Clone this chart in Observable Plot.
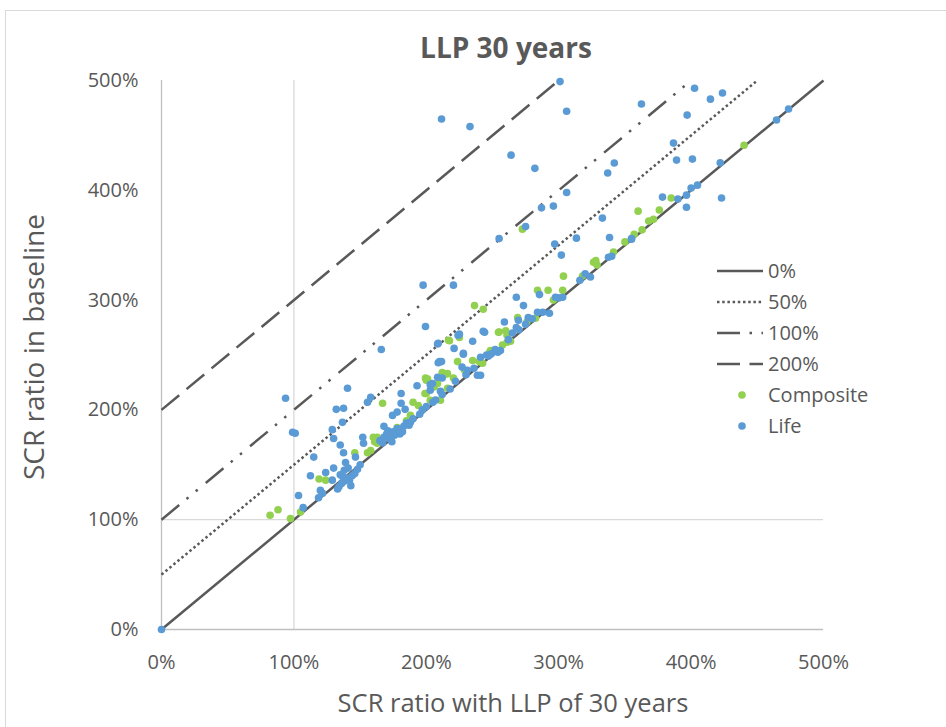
<!DOCTYPE html>
<html>
<head>
<meta charset="utf-8">
<script src="https://cdn.jsdelivr.net/npm/d3@7"></script>
<script src="https://cdn.jsdelivr.net/npm/@observablehq/plot@0.6"></script>
<style>
  html, body { margin: 0; padding: 0; background: #fff; }
  #wrap { position: relative; width: 946px; height: 727px; overflow: hidden; font-family: "Open Sans", sans-serif; color: #595959; }
  #frame { position: absolute; left: 5px; top: 10px; width: 1000px; height: 800px; border: 1px solid #d9d9d9; box-sizing: border-box; }
  #chart { position: absolute; left: 0; top: 0; }
  .title { position: absolute; left: 0; width: 1012px; top: 28px; text-align: center; font-weight: bold; font-size: 28px; color: #595959; }
  .xlab { position: absolute; left: 0; width: 1026px; top: 685px; text-align: center; font-size: 25.5px; }
  .ylab { position: absolute; left: 33px; top: 347px; transform: translate(-50%, -50%) rotate(-90deg); white-space: nowrap; font-size: 28px; }
  #legend { position: absolute; left: 714px; top: 255px; }
  .item { display: flex; align-items: center; height: 31px; font-size: 20px; }
  .item svg { width: 52px; height: 20px; margin-right: 2px; }
</style>
</head>
<body>
<div id="wrap">
  <div id="frame"></div>
  <div id="chart"></div>
  <div class="title">LLP 30 years</div>
  <div class="ylab">SCR ratio in baseline</div>
  <div class="xlab">SCR ratio with LLP of 30 years</div>
  <div id="legend"></div>
</div>
<script>
// ---- data (percent) ----
const tickValues = [0, 100, 200, 300, 400, 500];
const gridValues = [100];
const refOffsets = [0, 50, 100, 200];
const refLabels = ["0%", "50%", "100%", "200%"];
const refDash = ["none", "2.5,2.7", "23,9.5,2.5,9.5,2.5,10.5", "23,9.5"];
const seriesNames = ["Composite", "Life"];
const seriesColors = ["#92d050", "#5b9bd5"];

const compositeData = [
  [440,441],[385,393],[376,382],[360,381],[371.6,373.7],[368,372],[363,364],[341.4,343.7],
  [328,336],[326.3,334.5],[329,332],[303.6,321.8],[284,309],[292,309],[303,309],[272.6,364.6],
  [282.5,283.5],[269,284],[255,271],[260,272],[261,268],[257.5,259],[261,261.6],[263.6,262.5],
  [248.5,254],[242.5,242.5],[243,291.7],[236.4,295],[217.5,263],[223.6,244],[235,245],[248,253],
  [212,234],[216,233],[220.5,229],[199.4,229],[206,221],[200,227],[200,215],[167,206],[190,207],
  [194,204],[199,215],[201,228],[160,175],[163,169.6],[158,163],[146,161],[119,137],[124,136],
  [105,107],[82,104],[88,109],[97.4,101],[216.8,263.4],[225,266],[254.5,270.7],[214.5,232.5],
  [216,219.7],[208.5,224],[203,208.8],[210.7,208.8],[163,175],[161,171],[155.6,161],
  [172,178],[178,184],[185,190],[188,195],[229,236],[240,244],[276,280],[296,300],[318,322],[350,353],[357,360]
];

const lifeData = [
  [0,0],
  [211.5,465],[233,458],[301,499],[306,472],[264,432],[282,420],
  [402.6,493],[414.6,483],[423.7,488.6],[362.5,478.6],[397,468.5],[386.7,443],[389,427.5],[401,428.4],
  [464.5,464],[473.6,474],[337,415.7],[342,424.8],[306,398],[287,384],[296,385.6],[378.4,393.8],
  [404.8,404.7],[396.5,395.6],[396.5,384.5],[423,393],[255,356],[275,367],[297,351],[313.4,356.4],
  [333,374.7],[338.4,357],[355,355.5],[302,341],[337.6,339],[324,321],[297.6,302.6],[303,302.6],
  [268,302.6],[285.5,305],[273.4,295],[293,288],[284,289],[277,284],[269.6,281.7],[268,275],[275,278],
  [259,280],[265,270],[254,252.5],[245.5,250],[241,231.5],[243,271.6],[220.5,313.6],[197.6,313.6],
  [199.4,276],[166,255],[209,260.7],[224,268],[235,262.5],[244,270.7],[221,256],[228,250.7],[210,244],
  [241,248],[249,251],[256,254],[227,239],[231,236],[238.6,231.5],[208.5,229.7],[212,229],[204.7,224],
  [193,222],[140.5,219.7],[93.7,210.6],[158,211.5],[181,215],[209,243],[155.6,207],[132,200.5],
  [137.5,201.5],[136.7,188.7],[129,182],[130,174],[181,206],[174.5,195],[178,198],[184,200.5],[203,223],
  [180.5,181],[188,188.7],[152,175],[152.6,169.6],[135,168],[137.5,161],[146.5,157],[115,157],
  [99,179.6],[101,178.7],[112.5,140],[124,143],[130,147],[129,136],[103.5,122],[120,126.7],[118.6,120],
  [121.6,124],[107,111],
  [134,130],[136,133],[138,135],[140,138],[142,136],[144,140],[146,142],[135,141],[138,145],[141,147],
  [143,131],[148,146],[150,150],[139,152],[133,128],[137,139],
  [165,172],[168,175],[170,178],[172,174],[175,180],[178,183],[180,178],[183,185],[185,188],[187,186],
  [176,177],[171,181],[167,170],[174,171],[182,180],[168,185],
  [190,192],[195,196],[197,200],[200,203],[205,207],[212,214],[218,219],[222,226],[230,232],[236,238],
  [247,249],[252,255],[262,264],[270,273],[280,283],[288,289],[300,302],[316,318],[320,324],[340,340],
  [355,356],[390,392],[400,402],[422,425],
  [228,251.6],[225,269],[208.5,260],[211.5,244],[207,209],[210.7,217],[203,218]
];

// ---- build ----
const refLines = refOffsets.flatMap((off, i) => [
  {key: i, x: 0, y: off},
  {key: i, x: 500 - off, y: 500}
]);
const dots = [
  ...compositeData.map(([x, y]) => ({x, y, s: seriesNames[0]})),
  ...lifeData.map(([x, y]) => ({x, y, s: seriesNames[1]}))
];

const chart = Plot.plot({
  width: 946,
  height: 727,
  marginLeft: 161,
  marginRight: 123,
  marginTop: 80,
  marginBottom: 98,
  style: {fontFamily: "Open Sans", fontSize: "20px", color: "#595959", background: "transparent", overflow: "visible"},
  x: {domain: [0, 500], label: null},
  y: {domain: [0, 500], label: null},
  marks: [
    Plot.ruleX(gridValues, {stroke: "#d9d9d9", strokeWidth: 1.3, strokeOpacity: 1}),
    Plot.ruleY(gridValues, {stroke: "#d9d9d9", strokeWidth: 1.3, strokeOpacity: 1}),
    Plot.ruleX([0], {stroke: "#bfbfbf", strokeWidth: 1.3}),
    Plot.ruleY([0], {stroke: "#bfbfbf", strokeWidth: 1.3}),
    Plot.axisX({ticks: tickValues, tickSize: 0, tickPadding: 25, tickFormat: d => d + "%", label: null, fontSize: 20, fill: "#595959"}),
    Plot.axisY({ticks: tickValues, tickSize: 0, tickPadding: 23, tickFormat: d => d + "%", label: null, fontSize: 20, fill: "#595959"}),
    ...refOffsets.map((off, i) => Plot.line(refLines.filter(d => d.key === i), {
      x: "x", y: "y", stroke: "#595959", strokeWidth: 2.5,
      strokeDasharray: refDash[i] === "none" ? null : refDash[i], strokeLinecap: "butt"
    })),
    Plot.dot(dots.filter(d => d.s === seriesNames[0]), {x: "x", y: "y", r: 3.8, fill: seriesColors[0], stroke: "none"}),
    Plot.dot(dots.filter(d => d.s === seriesNames[1]), {x: "x", y: "y", r: 3.8, fill: seriesColors[1], stroke: "none"})
  ]
});
document.getElementById("chart").appendChild(chart);

// ---- legend ----
const legend = document.getElementById("legend");
refLabels.forEach((lab, i) => {
  const dash = refDash[i] === "none" ? "" : `stroke-dasharray="${refDash[i]}"`;
  legend.insertAdjacentHTML("beforeend",
    `<div class="item"><svg><line x1="3" x2="49" y1="10" y2="10" stroke="#595959" stroke-width="2.5" ${dash}/></svg><span>${lab}</span></div>`);
});
seriesNames.forEach((name, i) => {
  legend.insertAdjacentHTML("beforeend",
    `<div class="item"><svg><circle cx="28" cy="10" r="3.8" fill="${seriesColors[i]}"/></svg><span>${name}</span></div>`);
});
</script>
</body>
</html>
